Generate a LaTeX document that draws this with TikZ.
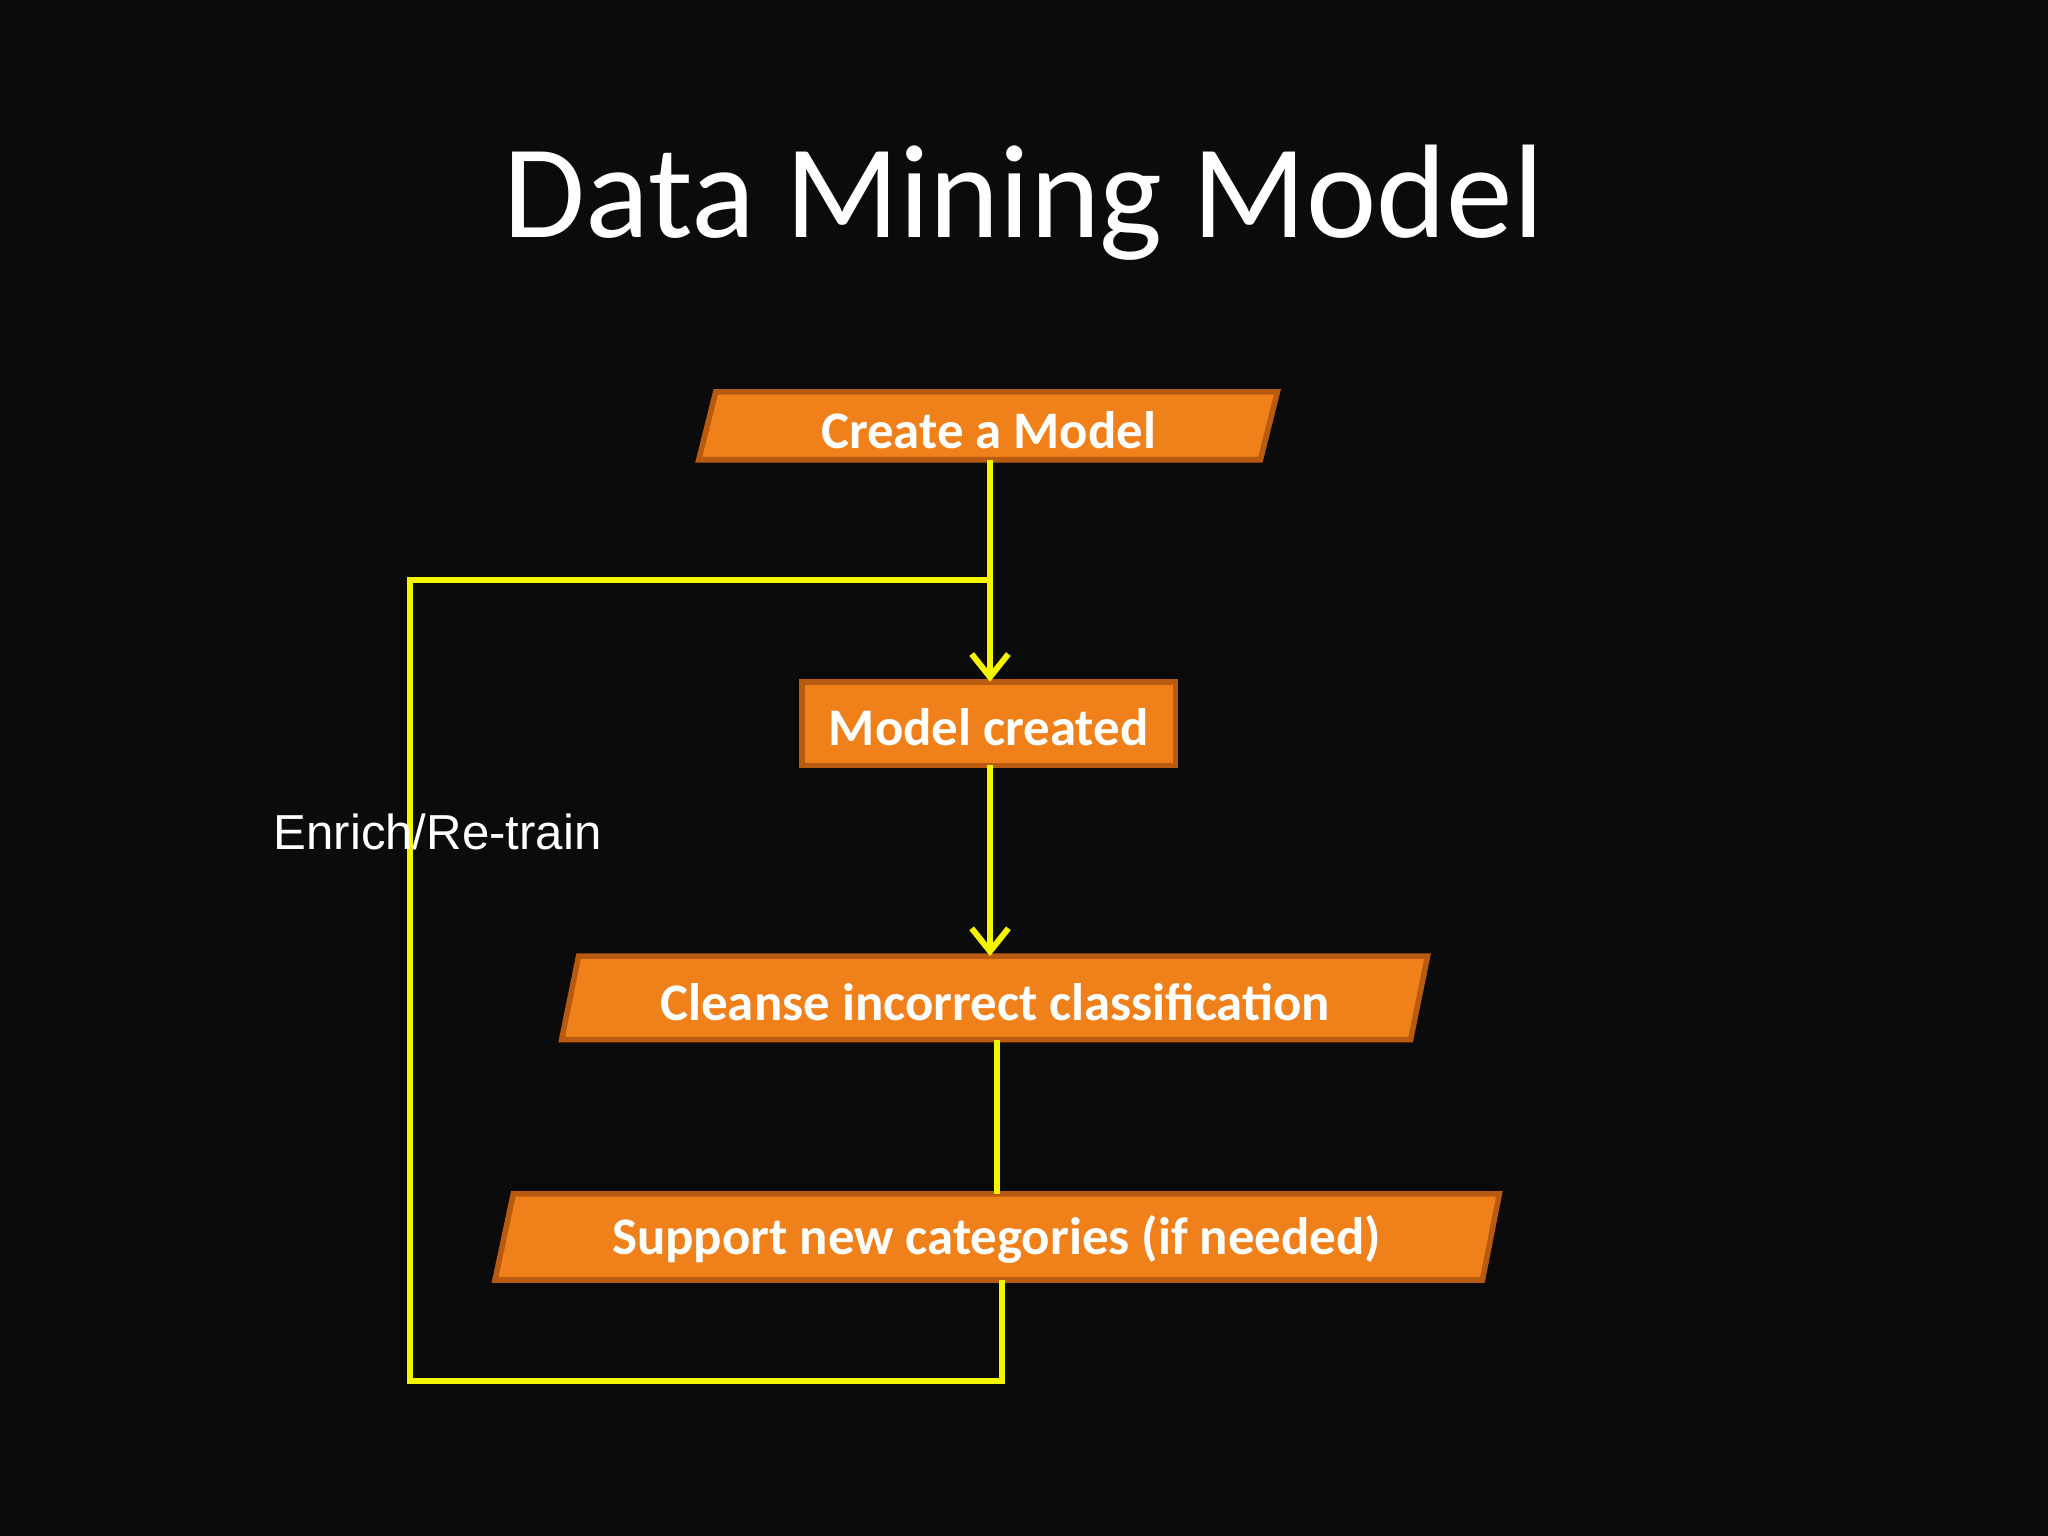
\documentclass[tikz,border=0pt]{standalone}
\usepackage{fontspec}
\setmainfont{Carlito}
\newfontfamily\arialf{Liberation Sans}
\usetikzlibrary{arrows.meta}
\definecolor{bg}{HTML}{0B0B0C}
\definecolor{org}{HTML}{F08019}
\definecolor{orgd}{HTML}{B85A10}
\definecolor{yel}{HTML}{F5F500}
\tikzset{
  box/.style={fill=org,draw=orgd,line width=1.2pt},
  btxt/.style={text=white,font=\bfseries\fontsize{11.5}{13}\selectfont},
  conn/.style={draw=yel,line width=1.3pt},
  arr/.style={conn,-{Straight Barb[length=5pt,width=8pt]}}
}
\begin{document}
\begin{tikzpicture}[x=0.01cm,y=-0.01cm]
\fill[bg] (0,0) rectangle (1568,1176);
\useasboundingbox (0,0) rectangle (1568,1176);
\node[text=white,font=\fontsize{29}{34}\selectfont] (title) at (784,155) {Data Mining Model};
% boxes
\draw[box] (548,300) -- (978,300) -- (965,352) -- (535,352) -- cycle;
\node[btxt] (b1) at (757,329) {Create a Model};
\draw[box] (614,522) rectangle (900,586);
\node[btxt] (b2) at (757,557) {Model created};
\draw[box] (443,732) -- (1093,732) -- (1080,796) -- (430,796) -- cycle;
\node[btxt] (b3) at (762,767) {Cleanse incorrect classification};
\draw[box] (393,914) -- (1148,914) -- (1135,980) -- (379,980) -- cycle;
\node[btxt] (b4) at (763,949) {Support new categories (if needed)};
\coordinate (t1) at (758,352);
\coordinate (t2) at (758,522);
\coordinate (t3) at (758,586);
\coordinate (t4) at (758,732);
\coordinate (t5) at (763,796);
\coordinate (t6) at (763,914);
\coordinate (t7) at (767,980);
\coordinate (c1) at (767,1057);
\coordinate (c2) at (314,1057);
\coordinate (c3) at (314,444);
\coordinate (c4) at (758,444);
\draw[arr] (t1) -- (t2);
\draw[arr] (t3) -- (t4);
\draw[conn] (t5) -- (t6);
\draw[conn] (t7) -- (c1) -- (c2) -- (c3) -- (c4);
\node[text=white,font=\arialf\fontsize{10.7}{12}\selectfont] (lab) at (335,637) {Enrich/Re-train};
\end{tikzpicture}
\end{document}
